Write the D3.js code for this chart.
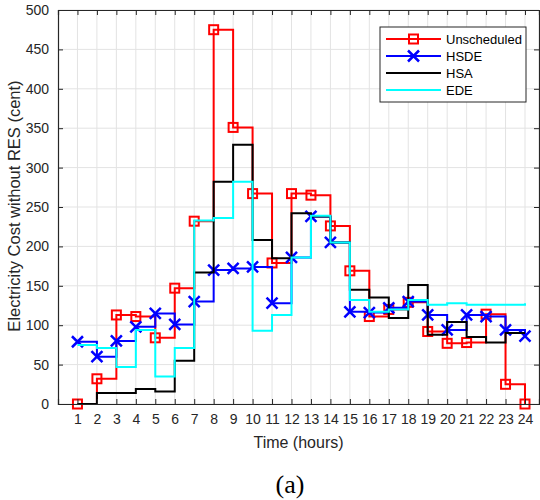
<!DOCTYPE html>
<html>
<head>
<meta charset="utf-8">
<script src="https://cdn.jsdelivr.net/npm/d3@7"></script>
<style>
  body { margin: 0; background: #fff; }
  svg { font-family: "Liberation Sans", Arial, sans-serif; }
</style>
</head>
<body>
<div id="chart"></div>
<script>
// hours and series
var hours = d3.range(1, 25);
var unscheduled = [0, 32, 113, 111, 84, 147, 232, 475, 351, 267, 179, 267, 265, 226, 169, 111, 120, 129, 92, 77, 78, 114, 25, 0];
var hsde = [79, 60, 80, 98, 115, 101, 130, 170, 172, 174, 128, 186, 238, 205, 117, 116, 122, 130, 113, 94, 113, 111, 94, 86];
var hsa = [0, 14, 14, 19, 16, 55, 167, 282, 329, 208, 185, 242, 238, 205, 145, 135, 109, 151, 88, 104, 85, 78, 90, 90];
var ede = [75, 71, 47, 94, 35, 71, 233, 236, 282, 93, 113, 186, 239, 205, 132, 117, 120, 132, 126, 128, 126, 126, 126, 128];
var yTicks = d3.range(0, 501, 50);

var series = [
  {name: "Unscheduled", values: unscheduled, color: "#ff0000", marker: "square"},
  {name: "HSDE", values: hsde, color: "#0000ff", marker: "x"},
  {name: "HSA", values: hsa, color: "#000000", marker: null},
  {name: "EDE", values: ede, color: "#00ffff", marker: null}
];

var margin = {top: 10, right: 1, bottom: 96, left: 58},
    width = 540 - margin.left - margin.right,
    height = 500 - margin.top - margin.bottom;

var svg = d3.select("#chart")
  .append("svg")
    .attr("width", 540)
    .attr("height", 500)
  .append("g")
    .attr("transform", "translate(" + margin.left + "," + margin.top + ")");

var x = d3.scaleLinear()
  .domain([0, 24.72])
  .range([0, width]);

var y = d3.scaleLinear()
  .domain([0, 500])
  .range([height, 0]);

// grid
svg.append("g")
  .selectAll("line")
  .data(hours)
  .enter()
  .append("line")
    .attr("x1", function(d) { return x(d); })
    .attr("x2", function(d) { return x(d); })
    .attr("y1", 0)
    .attr("y2", height)
    .attr("stroke", "#e3e3e3")
    .attr("stroke-width", 1);

svg.append("g")
  .selectAll("line")
  .data(yTicks)
  .enter()
  .append("line")
    .attr("x1", 0)
    .attr("x2", width)
    .attr("y1", function(d) { return y(d); })
    .attr("y2", function(d) { return y(d); })
    .attr("stroke", "#e3e3e3")
    .attr("stroke-width", 1);

// series
var line = d3.line()
  .x(function(d, i) { return x(hours[i]); })
  .y(function(d) { return y(d); })
  .curve(d3.curveStepAfter);

series.forEach(function(s) {
  var g = svg.append("g");
  g.append("path")
    .datum(s.values)
    .attr("d", line)
    .attr("fill", "none")
    .attr("stroke", s.color)
    .attr("stroke-width", 2);

  if (s.marker === "square") {
    g.selectAll("rect")
      .data(s.values)
      .enter()
      .append("rect")
        .attr("x", function(d, i) { return x(hours[i]) - 4.5; })
        .attr("y", function(d) { return y(d) - 4.5; })
        .attr("width", 9)
        .attr("height", 9)
        .attr("fill", "none")
        .attr("stroke", s.color)
        .attr("stroke-width", 2);
  } else if (s.marker === "x") {
    g.selectAll("path.mk")
      .data(s.values)
      .enter()
      .append("path")
        .attr("class", "mk")
        .attr("d", function(d, i) {
          var cx = x(hours[i]), cy = y(d), r = 5.5;
          return "M" + (cx - r) + "," + (cy - r) + "L" + (cx + r) + "," + (cy + r) +
                 "M" + (cx - r) + "," + (cy + r) + "L" + (cx + r) + "," + (cy - r);
        })
        .attr("stroke", s.color)
        .attr("stroke-width", 2.5);
  }
});

// axes (ticks inward, box on)
var axisColor = "#262626";
var xAxisBottom = svg.append("g")
  .attr("transform", "translate(0," + height + ")")
  .call(d3.axisBottom(x).tickValues(hours).tickSize(-5).tickPadding(10));
var xAxisTop = svg.append("g")
  .call(d3.axisTop(x).tickValues(hours).tickSize(-5).tickFormat(""));
var yAxisLeft = svg.append("g")
  .call(d3.axisLeft(y).tickValues(yTicks).tickSize(-5).tickPadding(9));
var yAxisRight = svg.append("g")
  .attr("transform", "translate(" + width + ",0)")
  .call(d3.axisRight(y).tickValues(yTicks).tickSize(-5).tickFormat(""));

[xAxisBottom, xAxisTop, yAxisLeft, yAxisRight].forEach(function(a) {
  a.select(".domain").attr("stroke", axisColor).attr("stroke-width", 1.2);
  a.selectAll(".tick line").attr("stroke", axisColor);
  a.selectAll(".tick text")
    .attr("fill", axisColor)
    .style("font-size", "14px")
    .style("font-family", "'Liberation Sans', Arial, sans-serif");
});

// axis labels
svg.append("text")
  .attr("text-anchor", "middle")
  .attr("x", width / 2)
  .attr("y", height + 44)
  .attr("fill", axisColor)
  .style("font-size", "16px")
  .text("Time (hours)");

svg.append("text")
  .attr("text-anchor", "middle")
  .attr("transform", "rotate(-90)")
  .attr("x", -196)
  .attr("y", -38)
  .attr("fill", axisColor)
  .style("font-size", "16.5px")
  .text("Electricity Cost without RES (cent)");

svg.append("text")
  .attr("text-anchor", "middle")
  .attr("x", 290 - margin.left)
  .attr("y", 493 - margin.top)
  .attr("fill", "#000")
  .style("font-family", "'Liberation Serif', 'DejaVu Serif', serif")
  .style("font-size", "26px")
  .text("(a)");

// legend
var legend = svg.append("g")
  .attr("transform", "translate(" + (380 - margin.left) + "," + (27 - margin.top) + ")");

legend.append("rect")
  .attr("width", 146)
  .attr("height", 75)
  .attr("fill", "#fff")
  .attr("stroke", axisColor)
  .attr("stroke-width", 1);

series.forEach(function(s, i) {
  var ly = 12 + i * 17;
  legend.append("line")
    .attr("x1", 6).attr("x2", 61)
    .attr("y1", ly).attr("y2", ly)
    .attr("stroke", s.color)
    .attr("stroke-width", 2);
  if (s.marker === "square") {
    legend.append("rect")
      .attr("x", 33.5 - 4.5).attr("y", ly - 4.5)
      .attr("width", 9).attr("height", 9)
      .attr("fill", "none")
      .attr("stroke", s.color)
      .attr("stroke-width", 2);
  } else if (s.marker === "x") {
    var r = 5.5;
    legend.append("path")
      .attr("d", "M" + (33.5 - r) + "," + (ly - r) + "L" + (33.5 + r) + "," + (ly + r) +
                 "M" + (33.5 - r) + "," + (ly + r) + "L" + (33.5 + r) + "," + (ly - r))
      .attr("stroke", s.color)
      .attr("stroke-width", 2.5);
  }
  legend.append("text")
    .attr("x", 66)
    .attr("y", ly)
    .attr("dy", "0.35em")
    .attr("fill", "#000")
    .style("font-size", "13px")
    .text(s.name);
});
</script>
</body>
</html>
